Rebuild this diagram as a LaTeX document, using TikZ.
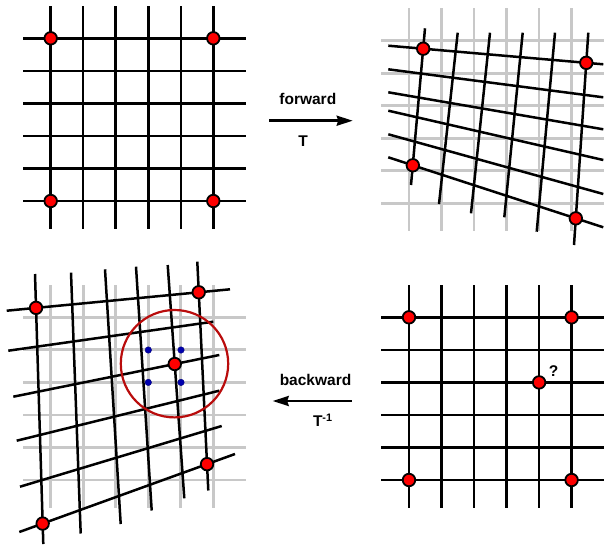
\documentclass[tikz,border=0pt]{standalone}
\usepackage{fontspec}
\setmainfont{Liberation Sans}
\usetikzlibrary{arrows.meta}
\definecolor{ghostgray}{RGB}{200,200,200}
\definecolor{dotblue}{RGB}{0,0,175}
\definecolor{ringred}{RGB}{185,12,12}
\newcommand{\squaregrid}[3]{%
  \foreach \i in {0,...,5} {%
    \draw[#3] ({#1+50.7+32.52*\i},{#2+6}) -- ({#1+50.7+32.52*\i},{#2+229});
    \draw[#3] ({#1+23},{#2+38.3+32.54*\i}) -- ({#1+246},{#2+38.3+32.54*\i});
  }%
}
\begin{document}
\begin{tikzpicture}[x=1pt,y=-1pt,
  gridline/.style={line width=2.5pt,black},
  ghostline/.style={line width=2.8pt,ghostgray},
  reddot/.style={circle,fill=red,draw=black,line width=1.8pt,inner sep=0pt,minimum size=12.5pt},
  bluedot/.style={circle,fill=dotblue,draw=dotblue!70!black,line width=0.4pt,inner sep=0pt,minimum size=6.5pt},
  ring/.style={ringred,line width=2.2pt},
  lbl/.style={font=\bfseries\fontsize{15.5}{18}\selectfont,inner sep=0pt,anchor=base},
  flow/.style={line width=2.5pt,-{Stealth[length=16pt,width=10pt,inset=1.5pt]}}
]
\useasboundingbox (0,0) rectangle (605,544);

% ---------- top left: regular grid ----------
\squaregrid{0}{0}{gridline}
\node[reddot] (tl1) at (50.7,38.3) {};
\node[reddot] (tl2) at (213.3,38.3) {};
\node[reddot] (tl3) at (50.7,201) {};
\node[reddot] (tl4) at (213.3,201) {};

% ---------- top right: warped grid ----------
\squaregrid{358.3}{2.4}{ghostline}
\foreach \n/\ax/\ay/\bx/\by in {
  1/388.3/45.7/603.3/64.3,
  2/388.3/69.3/603.3/97.3,
  3/388.3/92.3/603.3/129.3,
  4/388.3/110.7/603.3/160,
  5/388.3/134.3/603.3/194,
  6/388.3/157.3/603.3/227.3} {
  \coordinate (trH\n a) at (\ax,\ay);
  \coordinate (trH\n b) at (\bx,\by);
  \draw[gridline] (trH\n a) -- (trH\n b);
}
\foreach \n/\ax/\ay/\bx/\by in {
  1/425/28.3/411/185,
  2/457.7/32.7/439/204,
  3/490/32.7/471/213.3,
  4/522.7/32.7/504.3/217.3,
  5/555/32.7/536.7/231.7,
  6/588.3/32.7/574/245} {
  \coordinate (trV\n a) at (\ax,\ay);
  \coordinate (trV\n b) at (\bx,\by);
  \draw[gridline] (trV\n a) -- (trV\n b);
}
\node[reddot] (tr1) at (intersection of trH1a--trH1b and trV1a--trV1b) {};
\node[reddot] (tr2) at (intersection of trH1a--trH1b and trV6a--trV6b) {};
\node[reddot] (tr3) at (intersection of trH6a--trH6b and trV1a--trV1b) {};
\node[reddot] (tr4) at (intersection of trH6a--trH6b and trV6a--trV6b) {};

% ---------- bottom left: inverse-warped grid ----------
\squaregrid{0}{279}{ghostline}
\foreach \n/\ax/\ay/\bx/\by in {
  1/6.7/310.7/230/289.3,
  2/8.3/350.7/213.3/321.7,
  3/13.3/396.7/219.3/355,
  4/16.7/440.7/219.3/390.7,
  5/20/486.7/221.7/426,
  6/19.3/532/235/454} {
  \coordinate (blH\n a) at (\ax,\ay);
  \coordinate (blH\n b) at (\bx,\by);
  \draw[gridline] (blH\n a) -- (blH\n b);
}
\foreach \n/\ax/\ay/\bx/\by in {
  1/35/274/43.3/544,
  2/71/272.7/80.7/533.5,
  3/105/269.3/120.7/524,
  4/136/266.7/151.7/510.5,
  5/167.7/265/184.3/498.3,
  6/197.3/261.7/208.3/490.5} {
  \coordinate (blV\n a) at (\ax,\ay);
  \coordinate (blV\n b) at (\bx,\by);
  \draw[gridline] (blV\n a) -- (blV\n b);
}
\draw[ring] (174.5,363.7) circle[radius=53.7];
\node[bluedot] (b1) at (148.3,350) {};
\node[bluedot] (b2) at (181,350) {};
\node[bluedot] (b3) at (148.3,382.4) {};
\node[bluedot] (b4) at (181,382.4) {};
\node[reddot] (bl1) at (intersection of blH1a--blH1b and blV1a--blV1b) {};
\node[reddot] (bl2) at (intersection of blH1a--blH1b and blV6a--blV6b) {};
\node[reddot] (bl3) at (intersection of blH6a--blH6b and blV1a--blV1b) {};
\node[reddot] (bl4) at (intersection of blH6a--blH6b and blV6a--blV6b) {};
\node[reddot] (bl5) at (intersection of blH3a--blH3b and blV5a--blV5b) {};

% ---------- bottom right: regular grid with query point ----------
\squaregrid{358.3}{279}{gridline}
\node[reddot] (br1) at (409,317.3) {};
\node[reddot] (br2) at (571.6,317.3) {};
\node[reddot] (br3) at (409,480) {};
\node[reddot] (br4) at (571.6,480) {};
\node[reddot] (br5) at (539.1,382.4) {};
\node[lbl] (q) at (553.7,376.7) {?};

% ---------- arrows and labels ----------
\node[lbl] (fwd) at (307.8,104) {forward};
\coordinate (fa) at (269.3,120.7);
\coordinate (fb) at (352.7,120.7);
\draw[flow] (fa) -- (fb);
\node[lbl] (tf) at (303.2,146.7) {T};

\node[lbl] (bwd) at (315.5,385) {backward};
\coordinate (ba) at (351.7,401);
\coordinate (bb) at (272.7,401);
\draw[flow] (ba) -- (bb);
\node[lbl,anchor=base west] (tb) at (312.8,426.7) {T\textsuperscript{-1}};
\end{tikzpicture}
\end{document}
